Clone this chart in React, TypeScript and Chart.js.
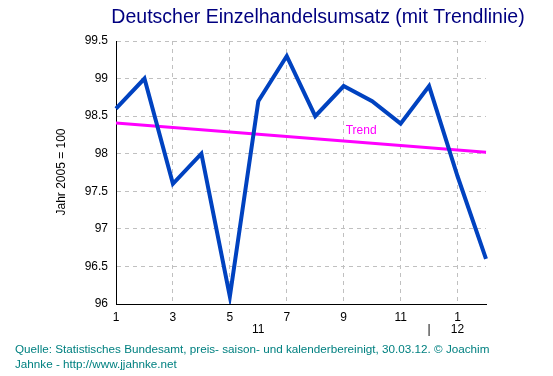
import React, { useEffect, useRef } from "react";
import { Chart, registerables } from "chart.js";

Chart.register(...registerables);

const monthLabels = ["1", "2", "3", "4", "5", "6", "7", "8", "9", "10", "11", "12", "1", "2"];
const yearLabels = ["", "", "", "", "", "11", "", "", "", "", "", "|", "12", ""];
const umsatz = [98.6, 99.0, 97.6, 98.0, 96.1, 98.7, 99.3, 98.5, 98.9, 98.7, 98.4, 98.9, 97.7, 96.6];
const trend: (number | null)[] = [98.41, null, null, null, null, null, null, null, null, null, null, null, null, 98.02];
const trendLabelIndex = 8;
const trendLabelValue = 98.3;

const titleText = "Deutscher Einzelhandelsumsatz (mit Trendlinie)";
const yTitle = "Jahr 2005 = 100";
const footer1 = "Quelle: Statistisches Bundesamt, preis- saison- und kalenderbereinigt, 30.03.12. © Joachim";
const footer2 = "Jahnke - http://www.jjahnke.net";

const FONT = "'Liberation Sans', Arial, sans-serif";

const textPlugin = {
  id: "texts",
  afterDraw(chart: any) {
    const ctx = chart.ctx;
    ctx.save();
    // title
    ctx.fillStyle = "#000080";
    ctx.font = `19.5px ${FONT}`;
    ctx.textAlign = "center";
    ctx.textBaseline = "middle";
    ctx.fillText(titleText, 318, 18);
    // y title
    ctx.save();
    ctx.translate(62, 172);
    ctx.rotate(-Math.PI / 2);
    ctx.fillStyle = "#000";
    ctx.font = `12px ${FONT}`;
    ctx.fillText(yTitle, 0, 0);
    ctx.restore();
    // trend label
    const xs = chart.scales.x;
    const ys = chart.scales.y;
    ctx.fillStyle = "#ff00ff";
    ctx.font = `12px ${FONT}`;
    ctx.textAlign = "left";
    ctx.fillText("Trend", xs.getPixelForValue(trendLabelIndex) + 2, ys.getPixelForValue(trendLabelValue));
    // footer
    ctx.fillStyle = "#008080";
    ctx.font = `11.7px ${FONT}`;
    ctx.fillText(footer1, 15, 350);
    ctx.fillText(footer2, 15, 365);
    ctx.restore();
  },
};

export default function App() {
  const ref = useRef<HTMLCanvasElement>(null);
  useEffect(() => {
    document.body.style.margin = "0";
    const chart = new Chart(ref.current!, {
      type: "line",
      data: {
        labels: monthLabels,
        datasets: [
          {
            data: umsatz,
            borderColor: "#0042c0",
            borderWidth: 4,
            pointRadius: 0,
            tension: 0,
            borderJoinStyle: "miter",
          },
          {
            data: trend,
            borderColor: "#ff00ff",
            borderWidth: 3,
            pointRadius: 0,
            spanGaps: true,
          },
        ],
      },
      options: {
        responsive: false,
        animation: false,
        layout: { padding: { top: 41, right: 67, bottom: 0, left: 0 } },
        plugins: { legend: { display: false }, tooltip: { enabled: false }, title: { display: false } },
        scales: {
          x: {
            type: "category",
            offset: false,
            afterFit: (s: any) => {
              s.height = 72;
            },
            grid: {
              drawTicks: false,
              color: (c: any) => (c.index % 2 === 0 && c.index > 0 ? "#c0c0c0" : "rgba(0,0,0,0)"),
              lineWidth: 1,
            },
            border: { color: "#000", width: 1, dash: [4, 4] },
            ticks: {
              autoSkip: false,
              maxRotation: 0,
              padding: 7,
              color: "#000",
              font: { family: FONT, size: 12, lineHeight: 1.05 },
              callback: (_v: any, i: number) => [i % 2 === 0 ? monthLabels[i] : "", yearLabels[i]],
            },
          },
          y: {
            min: 96,
            max: 99.5,
            afterFit: (s: any) => {
              s.width = 116;
            },
            grid: {
              drawTicks: false,
              color: (c: any) => (c.index > 0 ? "#c0c0c0" : "rgba(0,0,0,0)"),
              lineWidth: 1,
            },
            border: { color: "#000", width: 1, dash: [4, 4] },
            ticks: {
              stepSize: 0.5,
              padding: 8,
              color: "#000",
              font: { family: FONT, size: 12 },
              callback: (v: any) => String(Math.round(Number(v) * 10) / 10),
            },
          },
        },
      },
      plugins: [textPlugin],
    } as any);
    return () => chart.destroy();
  }, []);
  return (
    <div style={{ width: 553, height: 376 }}>
      <canvas ref={ref} width={553} height={376} />
    </div>
  );
}
